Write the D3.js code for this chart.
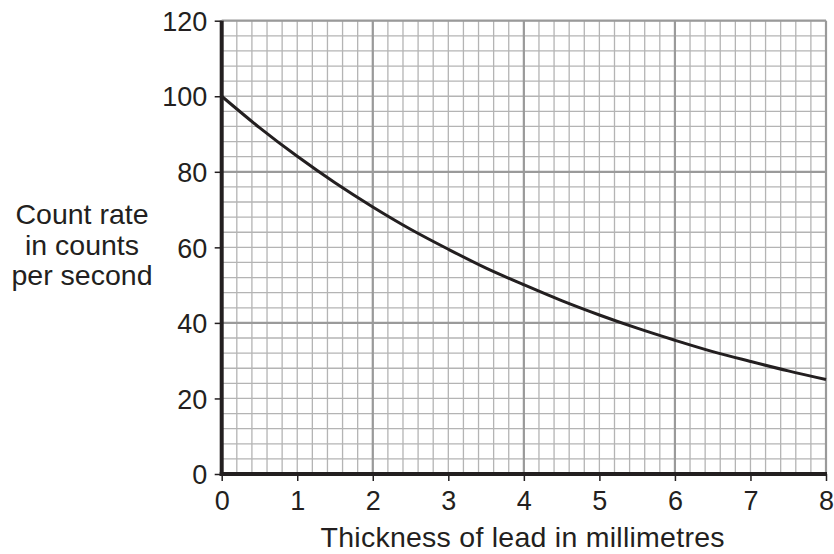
<!DOCTYPE html>
<html><head><meta charset="utf-8">
<script src="https://cdn.jsdelivr.net/npm/d3@7"></script>
<style>body{margin:0;background:#fff}svg{display:block}text{font-family:"Liberation Sans",Arial,sans-serif;fill:#231f20}</style>
</head><body>
<script>
const thickness = [0, 0.5, 1, 1.5, 2, 2.5, 3, 3.5, 4, 4.5, 5, 5.5, 6, 6.5, 7, 7.5, 8];
const countRate = [100, 91.7, 84.1, 77.1, 70.7, 64.8, 59.5, 54.5, 50.1, 45.9, 42.1, 38.6, 35.4, 32.4, 29.8, 27.3, 25];
const xTicks = [0, 1, 2, 3, 4, 5, 6, 7, 8];
const yTicks = [0, 20, 40, 60, 80, 100, 120];
const yLabelLines = ["Count rate", "in counts", "per second"];
const xLabel = "Thickness of lead in millimetres";

const W = 834, H = 554;
const svg = d3.select("body").append("svg").attr("width", W).attr("height", H);
const x = d3.scaleLinear().domain([0, 8]).range([221.7, 826]);
const y = d3.scaleLinear().domain([0, 120]).range([474, 20.7]);

const g = svg.append("g");
// minor grid
const minorX = d3.range(0, 8.0001, 0.2);
const minorY = d3.range(0, 120.0001, 4);
g.selectAll("line.mx").data(minorX).join("line")
  .attr("x1", d => x(d)).attr("x2", d => x(d)).attr("y1", y(0)).attr("y2", y(120))
  .attr("stroke", "#b4b4b4").attr("stroke-width", 1.3);
g.selectAll("line.my").data(minorY).join("line")
  .attr("y1", d => y(d)).attr("y2", d => y(d)).attr("x1", x(0)).attr("x2", x(8))
  .attr("stroke", "#b4b4b4").attr("stroke-width", 1.3);
// major grid
g.selectAll("line.Mx").data([2, 4, 6, 8]).join("line")
  .attr("x1", d => x(d)).attr("x2", d => x(d)).attr("y1", y(0)).attr("y2", y(120))
  .attr("stroke", "#9a9a9a").attr("stroke-width", 2.2);
g.selectAll("line.My").data([40, 80, 120]).join("line")
  .attr("y1", d => y(d)).attr("y2", d => y(d)).attr("x1", x(0)).attr("x2", x(8))
  .attr("stroke", "#9a9a9a").attr("stroke-width", 2.2);

// axes
const xAxis = d3.axisBottom(x).tickValues(xTicks).tickSize(7).tickPadding(10).tickFormat(d3.format("d"));
const yAxis = d3.axisLeft(y).tickValues(yTicks).tickSize(7).tickPadding(7.4).tickFormat(d3.format("d"));
const gx = svg.append("g").attr("transform", `translate(0,${y(0)})`).call(xAxis);
const gy = svg.append("g").attr("transform", `translate(${x(0)},0)`).call(yAxis);
[gx, gy].forEach(a => {
  a.select(".domain").remove();
  a.selectAll(".tick line").attr("stroke", "#231f20").attr("stroke-width", 1.5);
  a.selectAll(".tick text").attr("font-size", 27).attr("font-family", "Liberation Sans, Arial, sans-serif").attr("fill", "#231f20");
});
gx.selectAll(".tick text").attr("dy", "0.71em");
gy.selectAll(".tick text").attr("dy", "0.36em");
svg.append("line").attr("x1", x(0)).attr("x2", x(0)).attr("y1", y(120)).attr("y2", y(0) + 2)
  .attr("stroke", "#231f20").attr("stroke-width", 4);
svg.append("line").attr("x1", x(0) - 2).attr("x2", x(8) + 1).attr("y1", y(0)).attr("y2", y(0))
  .attr("stroke", "#231f20").attr("stroke-width", 4);

// curve
const line = d3.line().x((d, i) => x(thickness[i])).y(d => y(d)).curve(d3.curveCatmullRom);
svg.append("path").datum(countRate).attr("d", line).attr("fill", "none")
  .attr("stroke", "#231f20").attr("stroke-width", 3);

// labels
svg.selectAll("text.yl").data(yLabelLines).join("text").attr("class", "yl")
  .attr("x", 82).attr("y", (d, i) => 224.3 + i * 30.5).attr("text-anchor", "middle")
  .attr("font-size", 28.5).text(d => d);
svg.append("text").attr("x", 522.5).attr("y", 547).attr("text-anchor", "middle")
  .attr("font-size", 28.5).attr("textLength", 404).attr("lengthAdjust", "spacing").text(xLabel);
</script>
</body></html>
